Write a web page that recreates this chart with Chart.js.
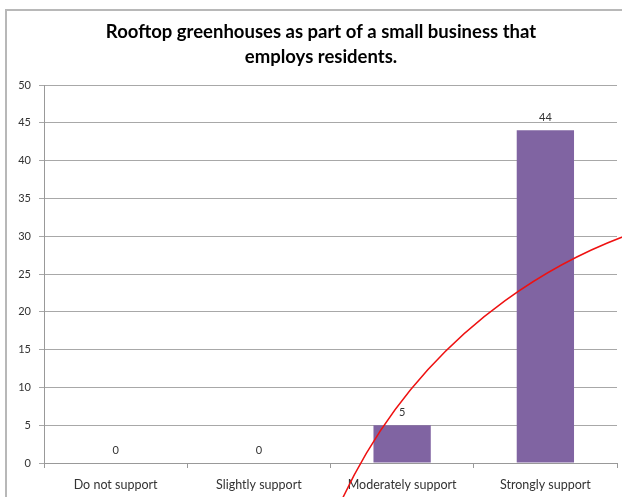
<!DOCTYPE html>
<html><head><meta charset="utf-8">
<script src="https://cdn.jsdelivr.net/npm/chart.js@4"></script>
<style>html,body{margin:0;padding:0;background:#fff}#wrap{width:622px;height:497px;position:relative}</style>
</head><body><div id="wrap"><canvas id="c" width="622" height="497"></canvas></div>
<script>
const titleLines = ["Rooftop greenhouses as part of a small business that", "employs residents."];
const categories = ["Do not support", "Slightly support", "Moderately support", "Strongly support"];
const values = [0, 0, 5, 44];
const yMin = 0, yMax = 50, yStep = 5;

const frame = {
  id: 'frame',
  beforeDraw(chart) {
    const ctx = chart.ctx;
    ctx.save();
    ctx.fillStyle = '#fff';
    ctx.fillRect(0, 0, chart.width, chart.height);
    ctx.strokeStyle = '#b8b8b8';
    ctx.lineWidth = 2;
    ctx.beginPath();
    ctx.moveTo(6, chart.height);
    ctx.lineTo(6, 10);
    ctx.lineTo(chart.width, 10);
    ctx.stroke();
    ctx.restore();
  }
};
const titlePlugin = {
  id: 'titleText',
  afterDraw(chart) {
    const ctx = chart.ctx;
    ctx.save();
    ctx.font = 'bold 18.5px Lato';
    ctx.fillStyle = '#000';
    ctx.textAlign = 'center';
    ctx.textBaseline = 'middle';
    titleLines.forEach((t, i) => ctx.fillText(t, 321, 32 + i * 25));
    ctx.restore();
  }
};
const labels = {
  id: 'labels',
  afterDatasetsDraw(chart) {
    const ctx = chart.ctx;
    const meta = chart.getDatasetMeta(0);
    ctx.save();
    ctx.font = '11px Lato';
    ctx.fillStyle = '#333';
    ctx.textAlign = 'center';
    ctx.textBaseline = 'middle';
    meta.data.forEach((el, i) => {
      ctx.fillText(String(values[i]), el.x, el.y - 13);
    });
    ctx.restore();
  }
};
const annot = {
  id: 'annot',
  afterDraw(chart) {
    const ctx = chart.ctx;
    ctx.save();
    ctx.strokeStyle = '#ee1111';
    ctx.lineWidth = 1.5;
    ctx.beginPath();
    ctx.arc(803.7, 711.6, 508, Math.PI * 1.05, Math.PI * 1.75);
    ctx.stroke();
    ctx.restore();
  }
};

new Chart(document.getElementById('c'), {
  type: 'bar',
  data: { labels: categories, datasets: [{ data: values, backgroundColor: '#8064A2', barPercentage: 0.8, categoryPercentage: 0.5 }] },
  options: {
    responsive: false, animation: false, devicePixelRatio: 1,
    layout: { padding: { left: 10, right: 5, top: 85, bottom: 0 } },
    plugins: {
      legend: { display: false }, tooltip: { enabled: false }, title: { display: false }
    },
    scales: {
      x: {
        grid: { display: true, drawOnChartArea: false, drawTicks: true, tickLength: 5, color: '#999', offset: true },
        border: { display: true, color: '#999', width: 1 },
        ticks: { color: '#333', font: { family: 'Lato', size: 12.5 }, padding: 9, maxRotation: 0 },
        afterFit(s) { s.height = 34; }
      },
      y: {
        min: yMin, max: yMax,
        grid: { color: '#a8a8a8', tickLength: 5, drawTicks: true },
        border: { display: true, color: '#999', width: 1 },
        ticks: { stepSize: yStep, color: '#333', font: { family: 'Lato', size: 11 }, padding: 8 },
        afterFit(s) { s.width = 34; }
      }
    }
  },
  plugins: [frame, labels, titlePlugin, annot]
});
</script></body></html>
